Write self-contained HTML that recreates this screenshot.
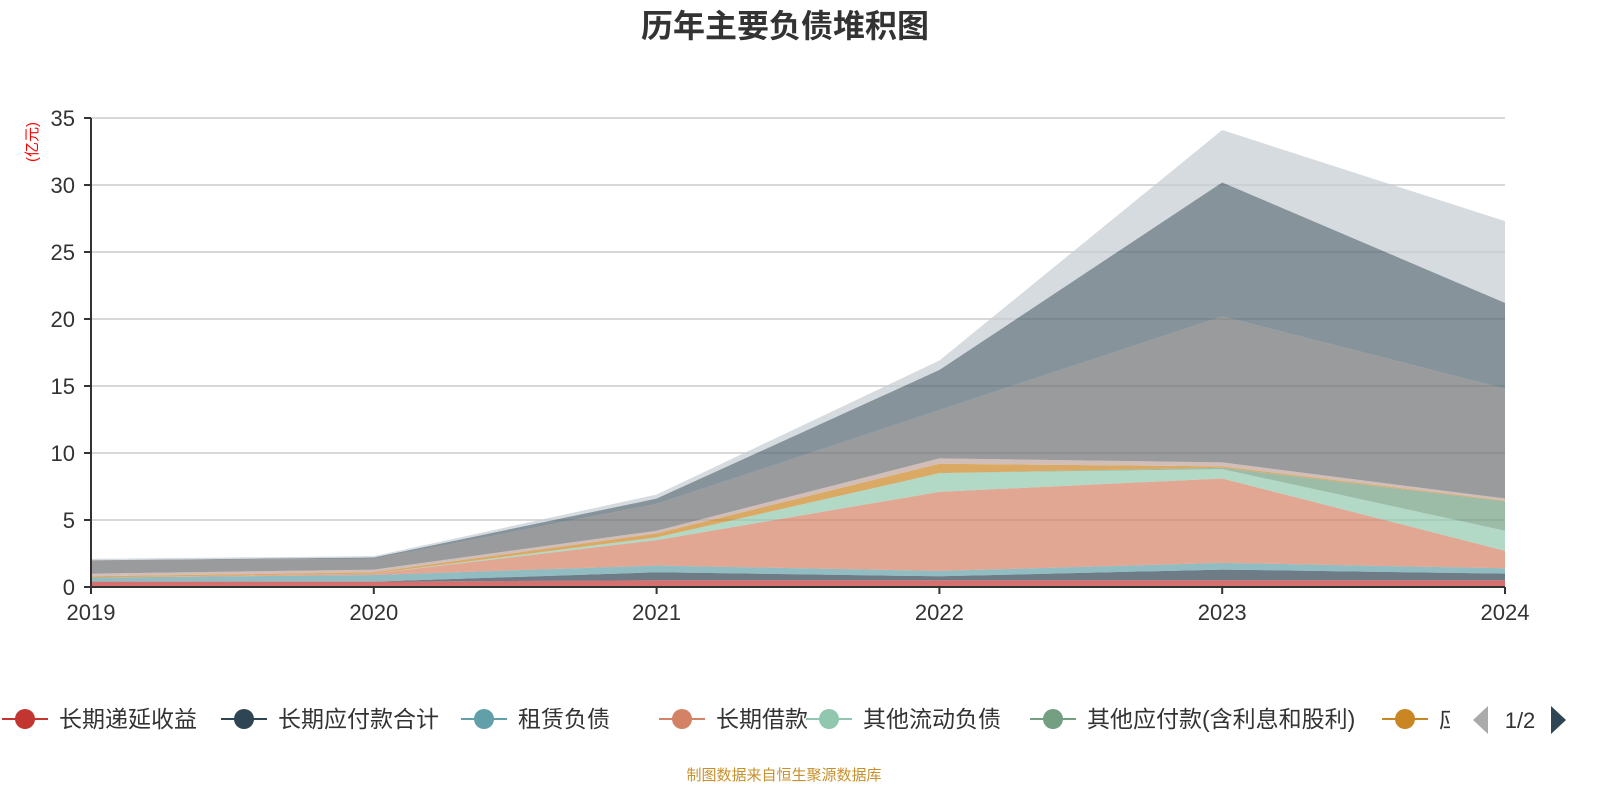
<!DOCTYPE html>
<html><head><meta charset="utf-8">
<style>
html,body{margin:0;padding:0;background:#fff;}
svg{display:block;font-family:"Liberation Sans","Noto Sans CJK SC",sans-serif;}
</style></head>
<body>
<svg id="chart" width="1600" height="800">
<text x="785" y="37" text-anchor="middle" font-size="32" font-weight="bold" fill="#333">历年主要负债堆积图</text>
<text transform="translate(37,142) rotate(-90)" text-anchor="middle" font-size="15" fill="#ff0000">(亿元)</text>
<g id="grid"></g>
<g id="areas"></g>
<g id="axes"></g>
<g id="legend"></g>
<polygon points="1488,706 1488,734 1473,720" fill="#aaa"/>
<text x="1520" y="728" text-anchor="middle" font-size="22" fill="#333">1/2</text>
<polygon points="1551,706 1551,734 1566,720" fill="#2f4554"/>
<text x="784" y="780" text-anchor="middle" font-size="15" fill="#c8902c">制图数据来自恒生聚源数据库</text>
</svg>
<script>
const categories = ["2019","2020","2021","2022","2023","2024"];
const yTicks = [0,5,10,15,20,25,30,35];
const seriesNames = ["长期递延收益","长期应付款合计","租赁负债","长期借款","其他流动负债","其他应付款(含利息和股利)","应付票据","预收款项","应付账款","短期借款","合同负债"];
const s1 = [0.4,0.4,0.5,0.5,0.5,0.5];
const s2 = [0,0,0.6,0.3,0.8,0.5];
const s3 = [0.3,0.5,0.5,0.4,0.5,0.4];
const s4 = [0,0.1,1.9,5.9,6.3,1.3];
const s5 = [0,0,0.2,1.4,0.7,1.5];
const s6 = [0,0,0,0,0.1,2.2];
const s7 = [0.1,0.1,0.3,0.7,0.1,0.05];
const s8 = [0.2,0.2,0.2,0.4,0.3,0.15];
const s9 = [1.0,0.8,2.0,3.6,10.9,8.2];
const s10 = [0,0.1,0.4,3.0,10.0,6.4];
const s11 = [0.1,0.1,0.3,0.7,3.9,6.1];
const seriesValues = [s1,s2,s3,s4,s5,s6,s7,s8,s9,s10,s11];
const colors = ["#c23531","#2f4554","#61a0a8","#d48265","#91c7ae","#749f83","#ca8622","#bda29a","#6e7074","#546570","#c4ccd3"];
const NS="http://www.w3.org/2000/svg";
const X0=91,X1=1505,Y0=587,Y1=118,YMAX=35;
function xs(i){return X0+(X1-X0)*i/(categories.length-1);}
function ys(v){return Y0-(Y0-Y1)*v/YMAX;}
function mk(t,a,p){const e=document.createElementNS(NS,t);for(const k in a)e.setAttribute(k,a[k]);p.appendChild(e);return e;}
const grid=document.getElementById('grid'),axes=document.getElementById('axes'),areas=document.getElementById('areas'),legend=document.getElementById('legend');
yTicks.forEach(t=>{
  if(t>0){const l=mk('line',{x1:X0,x2:X1,y1:ys(t),y2:ys(t),stroke:'#ccc','stroke-width':1.5},grid);
  
  }
  const tk=mk('line',{x1:X0-7,x2:X0,y1:ys(t),y2:ys(t),stroke:'#333','stroke-width':2},axes);
  
  
  const tx=mk('text',{x:X0-16,y:ys(t)+8,'text-anchor':'end','font-size':22,fill:'#333'},axes);
  tx.textContent=t;
  
  
});
let base=categories.map(()=>0);
seriesValues.forEach((vals,si)=>{
  const top=base.map((b,i)=>b+vals[i]);
  let d='M'+xs(0)+','+ys(top[0]);
  for(let i=1;i<top.length;i++)d+=' L'+xs(i)+','+ys(top[i]);
  for(let i=base.length-1;i>=0;i--)d+=' L'+xs(i)+','+ys(base[i]);
  d+=' Z';
  const p=mk('path',{d:d,fill:colors[si],'fill-opacity':0.7,stroke:'none'},areas);
  
  
  base=top;
});
mk('line',{x1:X0,x2:X0,y1:Y1,y2:Y0,stroke:'#333','stroke-width':2},axes);
mk('line',{x1:X0,x2:X1,y1:Y0,y2:Y0,stroke:'#333','stroke-width':2},axes);
categories.forEach((c,i)=>{
  const tk=mk('line',{x1:xs(i),x2:xs(i),y1:Y0,y2:Y0+7,stroke:'#333','stroke-width':2},axes);
  
  
  const tx=mk('text',{x:xs(i),y:Y0+33,'text-anchor':'middle','font-size':22,fill:'#333'},axes);
  tx.textContent=c;
  
  
});
const legX=[25,244,484,682,829,1053,1405];
const clip=mk('clipPath',{id:'legclip'},legend);
mk('rect',{x:0,y:690,width:1450,height:60},clip);
const lg=mk('g',{'clip-path':'url(#legclip)'},legend);
legX.forEach((cx,i)=>{
  const g=mk('g',{},lg);
  
  
  mk('line',{x1:cx-23,x2:cx+23,y1:719,y2:719,stroke:colors[i],'stroke-width':2},g);
  mk('circle',{cx:cx,cy:719,r:10,fill:colors[i]},g);
  const t=mk('text',{x:cx+34,y:727,'font-size':23,fill:'#333'},g);
  t.textContent=seriesNames[i];
});
</script>
</body></html>
